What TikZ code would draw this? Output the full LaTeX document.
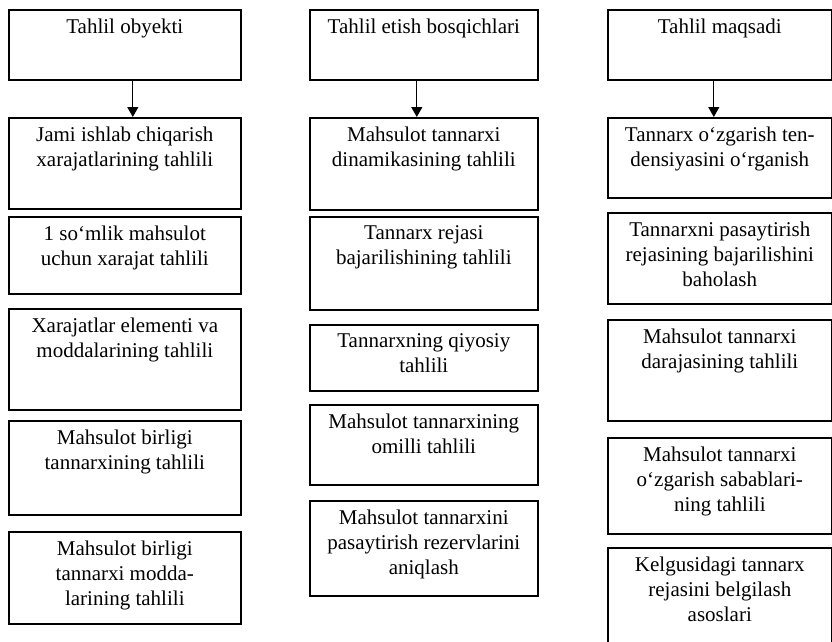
\documentclass[tikz,border=0pt]{standalone}
\usepackage{fontspec}
\setmainfont{Liberation Serif}
\usetikzlibrary{arrows.meta}

\tikzset{
  cell/.style={draw, line width=1.6pt, inner sep=0pt, anchor=north west,
    font=\fontsize{21}{25}\selectfont},
  link/.style={line width=1.2pt, -{Triangle[width=11pt,length=10pt]}}
}
% box of given width and height, text set at its top
\newcommand{\celltext}[3]{\parbox[t][#2pt][t]{#1pt}{\centering\vspace*{9pt}#3}}

\begin{document}
\begin{tikzpicture}[x=1pt, y=-1pt]
  \useasboundingbox (0,0) rectangle (832,642);

  % first column
  \node[cell] (obj)  at (8,9)   {\celltext{232}{70}{Tahlil obyekti}};
  \node[cell] (obj1) at (8,117) {\celltext{232}{91}{Jami ishlab chiqarish\\ xarajatlarining tahlili}};
  \node[cell] (obj2) at (8,216) {\celltext{232}{77}{1 so‘mlik mahsulot\\ uchun xarajat tahlili}};
  \node[cell] (obj3) at (8,308) {\celltext{232}{101}{Xarajatlar elementi va\\ moddalarining tahlili}};
  \node[cell] (obj4) at (8,420) {\celltext{232}{94}{Mahsulot birligi\\ tannarxining tahlili}};
  \node[cell] (obj5) at (8,531) {\celltext{232}{92}{Mahsulot birligi\\ tannarxi modda-\\ larining tahlili}};

  % second column
  \node[cell] (stage)  at (309,9)   {\celltext{228}{70}{Tahlil etish bosqichlari}};
  \node[cell] (stage1) at (309,117) {\celltext{228}{92}{Mahsulot tannarxi\\ dinamikasining tahlili}};
  \node[cell] (stage2) at (309,216) {\celltext{228}{93}{Tannarx rejasi\\ bajarilishining tahlili}};
  \node[cell] (stage3) at (309,324) {\celltext{228}{66}{Tannarxning qiyosiy\\ tahlili}};
  \node[cell] (stage4) at (309,404) {\celltext{228}{80}{Mahsulot tannarxining\\ omilli tahlili}};
  \node[cell] (stage5) at (309,500) {\celltext{228}{95}{Mahsulot tannarxini\\ pasaytirish rezervlarini\\ aniqlash}};

  % third column
  \node[cell] (goal)  at (607,9)   {\celltext{224}{70}{Tahlil maqsadi}};
  \node[cell] (goal1) at (607,117) {\celltext{224}{80}{Tannarx o‘zgarish ten-\\ densiyasini o‘rganish}};
  \node[cell] (goal2) at (607,212) {\celltext{224}{91}{Tannarxni pasaytirish\\ rejasining bajarilishini\\ baholash}};
  \node[cell] (goal3) at (607,319) {\celltext{224}{101}{Mahsulot tannarxi\\ darajasining tahlili}};
  \node[cell] (goal4) at (607,437) {\celltext{224}{96}{Mahsulot tannarxi\\ o‘zgarish sabablari-\\ ning tahlili}};
  \node[cell] (goal5) at (607,547) {\celltext{224}{113}{Kelgusidagi tannarx\\ rejasini belgilash\\ asoslari}};

  \draw[link] ([xshift=8pt]obj.south) -- ([xshift=8pt]obj1.north);
  \draw[link] ([xshift=-7pt]stage.south) -- ([xshift=-7pt]stage1.north);
  \draw[link] ([xshift=-6pt]goal.south) -- ([xshift=-6pt]goal1.north);
\end{tikzpicture}
\end{document}
